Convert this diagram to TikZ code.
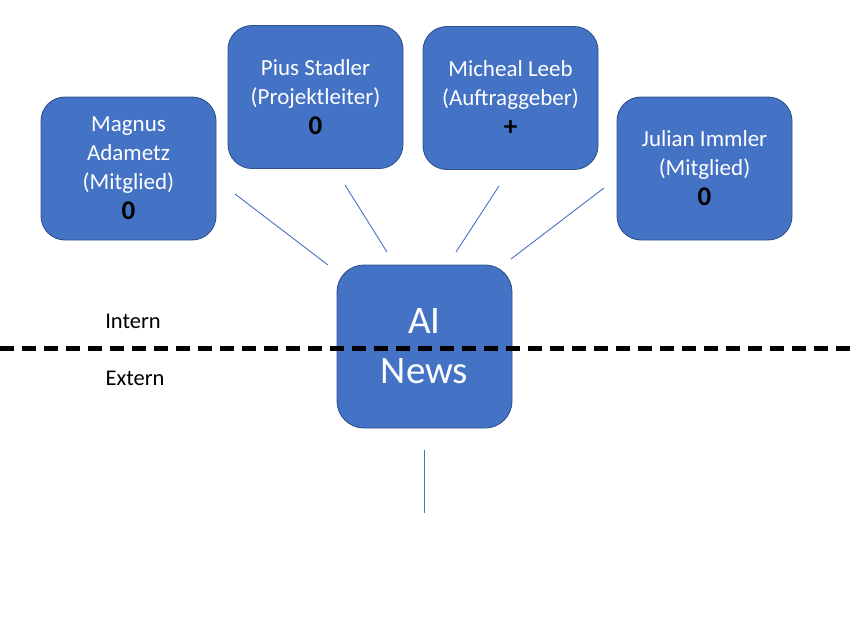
\documentclass[tikz,border=0pt]{standalone}
\usepackage{fontspec}
\setmainfont{Carlito}
\definecolor{boxblue}{HTML}{4472C4}
\definecolor{boxedge}{HTML}{2F528F}
\newcommand{\stakenum}[1]{\textcolor{black}{\fontsize{27}{29}\selectfont\bfseries #1}}
\begin{document}
\begin{tikzpicture}[x=1pt,y=-1pt,
  stake/.style={draw=boxedge, line width=0.9pt, fill=boxblue, rounded corners=24pt,
    minimum width=175pt, minimum height=143pt, inner sep=0pt, align=center,
    text=white, font=\fontsize{23}{29}\selectfont},
  link/.style={draw=boxblue, line width=0.9pt},
  side/.style={font=\fontsize{22.5}{27}\selectfont, text=black, inner sep=0pt}]
\useasboundingbox (0,0) rectangle (852,627);
\node[stake] (magnus) at (128.5,168.5) {Magnus\\Adametz\\(Mitglied)\\[1pt]\stakenum{0}};
\node[stake] (pius) at (315.5,97) {Pius Stadler\\(Projektleiter)\\[1pt]\stakenum{0}};
\node[stake] (leeb) at (510.5,98) {Micheal Leeb\\(Auftraggeber)\\[1pt]\stakenum{+}};
\node[stake] (julian) at (704.5,168.5) {Julian Immler\\(Mitglied)\\[1pt]\stakenum{0}};
\node[stake, minimum height=163pt, rounded corners=27pt, font=\fontsize{39}{50}\selectfont] (ai) at (424.5,346.5) {AI\\News};
\draw[line width=5pt, dash pattern=on 14pt off 8pt] (0,348) -- (852,348);
\node[side] (intern) at (133,321) {Intern};
\node[side] (extern) at (135,378) {Extern};
\coordinate (m1) at (235,194); \coordinate (m2) at (328,265);
\coordinate (p1) at (345,185); \coordinate (p2) at (387,252);
\coordinate (l1) at (499,186); \coordinate (l2) at (456,252);
\coordinate (j1) at (604,188); \coordinate (j2) at (511,259);
\coordinate (b1) at (424,450); \coordinate (b2) at (424,513);
\draw[link] (m1) -- (m2);
\draw[link] (p1) -- (p2);
\draw[link] (l1) -- (l2);
\draw[link] (j1) -- (j2);
\draw[link] (b1) -- (b2);
\end{tikzpicture}
\end{document}
